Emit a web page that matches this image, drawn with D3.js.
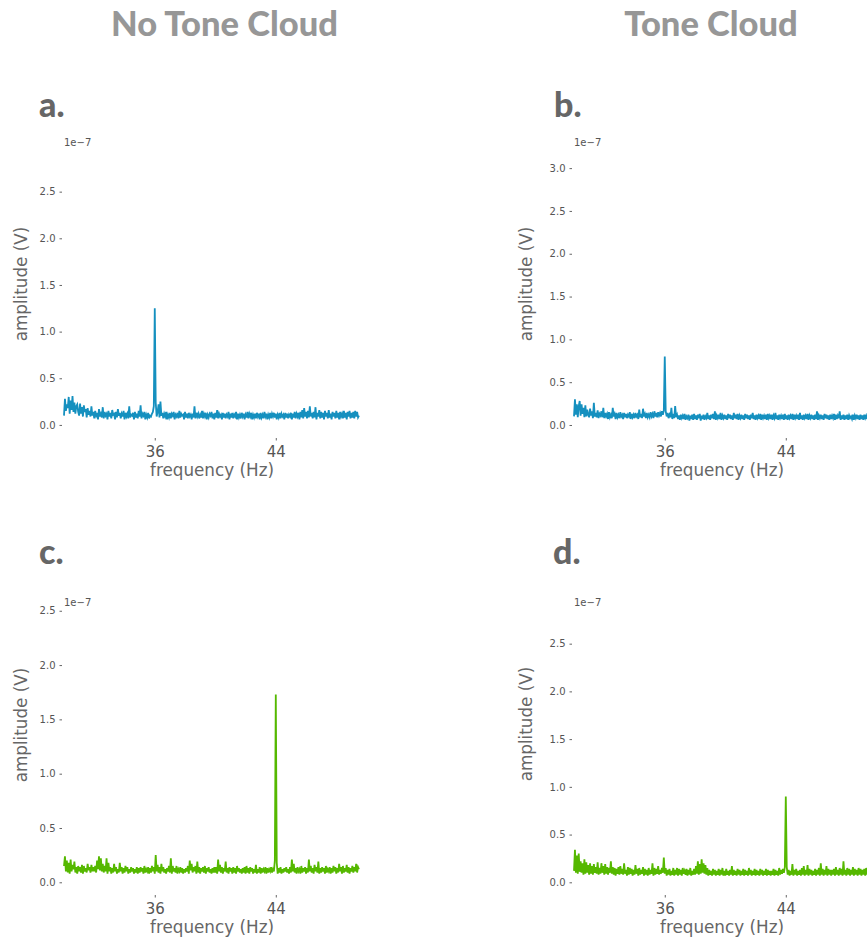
<!DOCTYPE html>
<html>
<head>
<meta charset="utf-8">
<script src="https://cdn.jsdelivr.net/npm/d3@7"></script>
<style>
  html, body { margin: 0; padding: 0; background: #fff; }
  svg { display: block; }
</style>
</head>
<body>
<svg id="chart" width="867" height="939"></svg>
<script>
// ---- data: amplitude in units of 1e-9 V (1/100 of the 1e-7 axis unit) ----
const columnTitles = ["No Tone Cloud", "Tone Cloud"];
const panelLetters = ["a.", "b.", "c.", "d."];
const xTickValues = [36, 44];
const freqStart = 30, freqStep = 0.0625, freqEnd = 49.5;
const yTicksA = [0.0, 0.5, 1.0, 1.5, 2.0, 2.5];
const yTicksB = [0.0, 0.5, 1.0, 1.5, 2.0, 2.5, 3.0];
const yTicksC = [0.0, 0.5, 1.0, 1.5, 2.0, 2.5];
const yTicksD = [0.0, 0.5, 1.0, 1.5, 2.0, 2.5];

const ampA = [
 10,28,15,22,18,30,12,26,16,31,14,24,12,20,22,14,
 10,23,12,19,9,21,14,17,8,18,11,15,9,20,10,14,
 7,15,10,13,6,17,9,12,8,19,7,14,10,12,6,15,
 9,13,7,16,11,12,6,14,8,17,10,13,7,12,9,15,
 6,13,9,12,7,20,8,11,10,13,6,14,8,12,7,15,
 9,21,7,12,10,14,6,11,8,13,7,10,9,12,14,20,
 125,24,9,14,22,8,25,10,13,7,12,9,14,6,11,8,
 13,7,12,10,14,6,11,9,13,7,15,8,12,10,11,6,
 14,8,12,7,13,9,11,6,12,8,20,7,13,9,12,7,
 11,8,15,7,12,9,13,6,11,8,12,10,14,7,12,6,
 13,8,16,7,12,9,11,6,13,8,12,7,11,9,14,6,
 12,8,13,7,11,9,14,6,12,8,11,7,13,9,12,6,
 11,8,14,7,12,9,13,6,11,8,12,7,13,9,12,6,
 13,8,11,7,14,9,12,6,11,8,13,7,12,9,13,8,
 12,6,11,8,13,7,12,9,11,6,13,8,12,7,11,9,
 13,6,12,8,14,7,12,9,13,6,14,8,16,7,18,9,
 14,7,15,8,20,9,13,7,14,8,19,6,13,9,16,7,
 14,8,13,6,15,9,13,7,16,8,12,6,14,9,13,7,
 15,8,13,6,14,9,12,7,15,8,13,6,14,9,15,7,
 13,8,14,7,15,9,14,8,10
];
const ampB = [
 10,30,12,24,9,22,28,11,24,13,20,9,23,10,18,12,
 9,19,11,16,8,26,10,14,9,17,8,13,11,16,9,20,
 8,14,10,13,7,15,9,12,8,20,10,13,7,14,9,12,
 8,15,10,12,7,14,9,13,8,12,10,15,7,13,9,12,
 8,14,10,12,7,18,9,13,8,19,10,13,8,14,9,12,
 9,15,10,13,8,16,10,14,9,15,11,14,10,16,12,17,
 80,16,10,14,8,12,9,20,7,13,8,22,9,12,7,11,
 6,12,8,11,7,13,6,10,8,12,5,11,7,12,6,13,
 7,11,6,12,8,13,5,11,7,12,6,10,8,14,7,11,
 6,12,8,13,7,16,6,11,8,12,7,14,6,11,8,12,
 7,11,6,13,8,12,7,11,6,14,8,12,7,13,6,11,
 8,12,7,11,6,13,8,12,7,11,6,12,8,14,7,11,
 6,12,8,11,7,13,6,12,8,11,7,12,6,13,8,11,
 7,12,6,11,8,14,7,11,6,12,8,11,7,12,6,13,
 7,11,6,12,8,11,7,13,6,12,8,11,7,12,6,14,
 7,11,6,12,8,11,7,13,6,11,8,12,7,11,6,12,
 7,16,6,11,8,12,7,11,6,13,8,12,7,11,6,12,
 7,11,8,13,6,12,7,11,8,16,6,11,7,12,6,11,
 7,12,6,11,8,10,7,12,6,11,8,12,7,11,6,12,
 7,11,6,12,8,11,7,12,8
];
const ampC = [
 15,24,10,20,9,18,8,21,10,16,12,19,9,14,8,15,
 10,14,9,16,8,15,10,13,9,17,11,14,9,16,10,14,
 10,15,9,20,12,24,11,22,10,17,9,15,10,22,8,18,
 10,14,8,13,9,17,10,14,8,12,9,18,10,14,8,13,
 9,15,10,14,8,12,9,14,10,13,8,12,9,14,8,13,
 9,14,10,13,8,15,9,12,10,14,8,13,9,15,10,14,
 8,25,10,16,9,14,8,17,10,14,9,12,8,13,10,15,
 9,22,8,15,10,13,9,15,8,12,10,14,9,13,8,12,
 9,13,10,15,8,20,11,17,9,14,10,15,8,19,9,14,
 8,13,10,14,9,15,8,13,10,14,9,12,8,13,9,14,
 9,14,8,21,10,16,9,14,8,13,10,19,9,13,8,14,
 10,13,8,14,9,13,8,15,10,13,9,12,8,13,9,14,
 8,15,9,13,8,14,10,13,8,12,9,16,8,12,9,14,
 8,13,9,12,10,14,8,13,9,12,10,14,9,12,10,20,
 173,18,8,13,9,14,8,12,9,13,10,14,9,12,8,14,
 9,21,10,17,9,13,8,14,10,12,8,15,9,13,10,14,
 8,13,9,21,10,15,9,13,8,16,10,14,9,19,8,13,
 9,14,10,13,8,15,9,12,10,14,8,13,9,15,10,14,
 8,13,9,17,10,14,8,15,9,13,10,16,9,14,8,13,
 10,15,9,14,10,17,9,14,12
];
const ampD = [
 12,34,10,28,9,30,11,22,10,20,8,24,9,21,10,18,
 8,20,9,17,8,19,10,16,9,21,8,15,9,20,10,17,
 8,19,9,16,8,15,10,22,9,16,8,15,7,14,9,16,
 8,17,9,14,8,20,9,13,7,16,8,15,9,14,7,13,
 8,18,9,14,7,15,8,13,9,16,7,14,8,13,7,15,
 8,13,9,20,7,15,8,14,9,17,8,13,9,15,10,26,
 9,15,7,13,8,14,7,12,8,15,7,13,8,15,7,14,
 8,13,7,15,9,12,8,14,7,13,8,15,7,12,8,14,
 8,17,9,22,8,19,9,24,10,20,9,18,8,15,7,13,
 8,12,7,14,8,13,7,12,8,14,7,13,8,15,7,12,
 7,14,8,12,7,13,8,17,7,13,8,12,7,14,8,13,
 7,12,8,14,7,13,8,12,7,15,8,13,7,12,8,14,
 7,13,8,12,7,14,8,13,7,12,8,14,7,13,8,12,
 7,12,8,14,7,13,8,12,7,15,8,13,9,14,10,16,
 90,16,8,13,7,12,8,19,7,13,8,14,7,12,8,13,
 7,15,8,17,7,13,8,18,7,14,8,13,7,12,8,14,
 7,13,8,15,7,20,8,14,7,13,8,17,7,14,8,13,
 7,13,8,14,7,16,8,13,7,15,8,14,7,22,8,13,
 7,15,8,14,7,13,8,16,7,14,8,13,7,15,8,14,
 7,13,8,14,7,15,8,14,9
];

// ---- layout ----
const BLUE = "#1590bf", GREEN = "#55b800";
const panels = [
  {letter: panelLetters[0], amp: ampA, ticks: yTicksA, color: BLUE,  left: 64,  top: 145, bottom: 438, yDom: [-0.14, 3.0],   lx: 39,  ly: 117, labX: 27,  labY: 284},
  {letter: panelLetters[1], amp: ampB, ticks: yTicksB, color: BLUE,  left: 574, top: 145, bottom: 438, yDom: [-0.152, 3.27], lx: 554, ly: 117, labX: 532, labY: 284},
  {letter: panelLetters[2], amp: ampC, ticks: yTicksC, color: GREEN, left: 64,  top: 605, bottom: 895, yDom: [-0.117, 2.553], lx: 39,  ly: 564, labX: 27,  labY: 725},
  {letter: panelLetters[3], amp: ampD, ticks: yTicksD, color: GREEN, left: 574, top: 605, bottom: 895, yDom: [-0.133, 2.905], lx: 553, ly: 564, labX: 532, labY: 724}
];
const plotW = 295;
const freqs = d3.range(freqStart, freqEnd + 1e-9, freqStep);

const svg = d3.select("#chart");

svg.selectAll("text.coltitle").data(columnTitles).join("text")
  .attr("class", "coltitle")
  .attr("x", (d, i) => i === 0 ? 224.5 : 711)
  .attr("y", 36)
  .attr("text-anchor", "middle")
  .style("font-family", "Lato, 'Open Sans', sans-serif")
  .style("font-weight", 900)
  .style("font-size", "34.5px")
  .style("fill", "#979797")
  .text(d => d);

panels.forEach(p => {
  const x = d3.scaleLinear().domain([freqStart, freqEnd]).range([p.left, p.left + plotW]);
  const y = d3.scaleLinear().domain(p.yDom).range([p.bottom, p.top]);

  svg.append("text")
    .attr("x", p.lx).attr("y", p.ly)
    .style("font-family", "Lato, 'Open Sans', sans-serif")
    .style("font-weight", 900)
    .style("font-size", "34px")
    .style("fill", "#666")
    .text(p.letter);

  const gy = svg.append("g").attr("transform", `translate(${p.left - 1},0)`)
    .call(d3.axisLeft(y).tickValues(p.ticks).tickFormat(d3.format(".1f")).tickSize(2.5).tickPadding(5));
  gy.select(".domain").remove();
  gy.selectAll(".tick line").attr("stroke", "#666").attr("stroke-width", 1).attr("transform", "translate(-1,0)");
  gy.selectAll(".tick text")
    .style("font-family", "'DejaVu Sans', sans-serif")
    .style("font-size", "10px")
    .style("fill", "#555");

  svg.append("text")
    .attr("x", p.left).attr("y", p.top + 0.5)
    .style("font-family", "'DejaVu Sans', sans-serif")
    .style("font-size", "10px")
    .style("fill", "#555")
    .text("1e\u22127");

  const gx = svg.append("g").attr("transform", `translate(0,${p.bottom})`)
    .call(d3.axisBottom(x).tickValues(xTickValues).tickFormat(d3.format("d")).tickSize(2.5).tickPadding(6));
  gx.select(".domain").remove();
  gx.selectAll(".tick line").attr("stroke", "#666");
  gx.selectAll(".tick text")
    .style("font-family", "'DejaVu Sans', sans-serif")
    .style("font-size", "15px")
    .style("fill", "#555");

  svg.append("text")
    .attr("x", p.left + plotW / 2 + 0.5).attr("y", p.bottom + 38)
    .attr("text-anchor", "middle")
    .style("font-family", "'DejaVu Sans', sans-serif")
    .style("font-size", "16.8px")
    .style("fill", "#666")
    .text("frequency (Hz)");
  svg.append("text")
    .attr("transform", `translate(${p.labX},${p.labY}) rotate(-90)`)
    .attr("text-anchor", "middle")
    .style("font-family", "'DejaVu Sans', sans-serif")
    .style("font-size", "16.8px")
    .style("fill", "#666")
    .text("amplitude (V)");

  const line = d3.line().x((d, i) => x(freqs[i])).y(d => y(d / 100));
  svg.append("path")
    .datum(p.amp)
    .attr("d", line)
    .attr("fill", "none")
    .attr("stroke", p.color)
    .attr("stroke-width", 1.8)
    .attr("stroke-linejoin", "miter");
});
</script>
</body>
</html>
